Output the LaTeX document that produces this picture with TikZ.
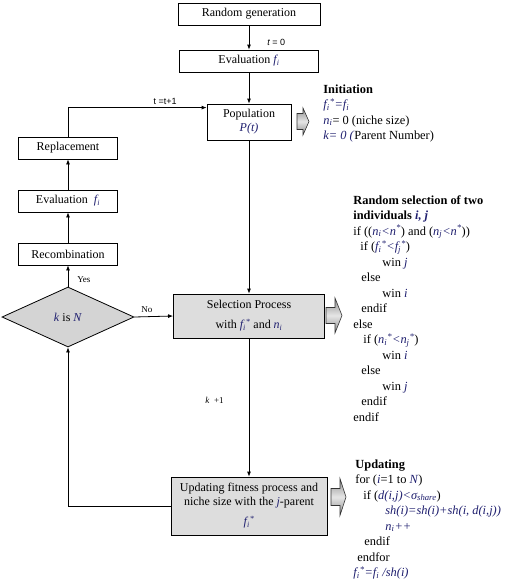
\documentclass[tikz,border=0pt]{standalone}
\usepackage{fontspec}
\setmainfont{Liberation Serif}
\setsansfont{Liberation Sans}
\usetikzlibrary{shapes.geometric,arrows.meta}
\definecolor{varc}{RGB}{30,30,110}
\definecolor{boxgray}{RGB}{221,221,221}
\definecolor{diagray}{RGB}{212,212,212}
\newcommand\vr[1]{\textcolor{varc}{\textit{#1}}}
\newcommand\subsup[2]{\textsubscript{#1}\textsuperscript{#2}}
% fat arrow: x0, xbody-end, xtip, ycenter, half body, half head
\newcommand\fatarr[6]{\path[fatstyle] (#1,{#4-#5}) -- (#2,{#4-#5}) -- (#2,{#4-#6}) -- (#3,#4) -- (#2,{#4+#6}) -- (#2,{#4+#5}) -- (#1,{#4+#5}) -- cycle;}
\begin{document}
\begin{tikzpicture}[x=1pt,y=-1pt,
  >={Latex[length=5pt,width=4pt]},
  line width=0.8pt,
  boxw/.style={draw, fill=white, minimum height=22pt, inner sep=1pt, font=\fontsize{12}{14}\selectfont, align=center},
  boxg/.style={draw, fill=boxgray, inner sep=1pt, font=\fontsize{12}{14}\selectfont, align=center},
  lab/.style={inner sep=1pt, font=\fontsize{9}{10}\selectfont},
  code/.style={anchor=north west, align=left, inner sep=0pt, font=\fontsize{12.4}{15.5}\selectfont},
  fatstyle/.style={draw=gray!40!black, line width=0.6pt, top color=gray!90, bottom color=gray!90, middle color=gray!20},
]
\useasboundingbox (0,0) rectangle (511,581);

% main column
\node[boxw, minimum width=142pt] (rg) at (249,14) {Random generation};
\node[boxw, minimum width=139pt] (ev) at (249,61) {Evaluation \vr{f\textsubscript{i}}};
\node[boxw, minimum width=84pt, minimum height=36pt] (pop) at (249,122) {Population\\\vr{P(t)}};
\node[boxg, minimum width=151pt, minimum height=44pt] (sel) at (249,316) {Selection Process\\[6pt]with \vr{f\subsup{i}{*}} and \vr{n\textsubscript{i}}};
\node[boxg, minimum width=156pt, minimum height=58pt] (upd) at (249,506) {Updating fitness process and\\niche size with the \vr{j}-parent\\[6pt]\vr{f\subsup{i}{*}}};

% left column
\node[boxw, minimum width=99pt] (rep) at (68,148) {Replacement};
\node[boxw, minimum width=99pt] (ev2) at (68,201) {Evaluation~~\vr{f\textsubscript{i}}};
\node[boxw, minimum width=99pt] (rec) at (68,254) {Recombination};
\node[diamond, draw, fill=diagray, aspect=2.2, minimum width=132pt, minimum height=60pt, inner sep=0pt, font=\fontsize{12}{14}\selectfont] (dia) at (68,317) {\vr{k} is \vr{N}};

% connectors
\draw[->] (rg) -- (ev) node[lab, pos=0.7, anchor=west, xshift=17pt] {\sffamily\itshape t\upshape{} = 0};
\draw[->] (ev) -- (pop);
\draw[->] (rep.north) |- ([yshift=-4pt]pop.north west) node[lab, pos=0.85, above=2pt] {\sffamily t =t+1};
\draw[->] (pop) -- (sel);
\draw[->] (dia.east) -- (sel.west) node[lab, pos=0.32, above=3pt] {No};
\draw[->] (dia.north) -- (rec.south) node[lab, pos=0.32, anchor=west, xshift=8pt] {Yes};
\draw[->] (rec) -- (ev2);
\draw[->] (ev2) -- (rep);
\draw[->] (sel) -- (upd) node[lab, pos=0.45, anchor=east, xshift=-24pt] {\textit{k}~~+1};
\draw[->] (upd.west) -| (dia.south);

% fat arrows
\fatarr{297}{303}{309}{121.5}{8}{13.5}
\fatarr{326}{335}{342}{315.5}{8}{17.5}
\fatarr{331}{340}{346}{497}{8.5}{18.5}

% text blocks
\node[code] (init) at (323,84) {\textbf{Initiation}\\
\vr{f\subsup{i}{*}=f\textsubscript{i}}\\
\vr{n\textsubscript{i}}= 0 (niche size)\\
\vr{k= 0 (}Parent Number)};

\node[code] (selcode) at (353,195) {\textbf{Random selection of two}\\
\textbf{individuals \textcolor{varc}{\textit{i, j}}}\\
if ((\vr{n\textsubscript{i}<n\textsuperscript{*}}) and (\vr{n\textsubscript{j}<n\textsuperscript{*}}))\\
\hspace*{7pt}if (\vr{f\subsup{i}{*}<f\subsup{j}{*}})\\
\hspace*{29pt}win \vr{j}\\
\hspace*{8pt}else\\
\hspace*{29pt}win \vr{i}\\
\hspace*{8pt}endif\\
else\\
\hspace*{10pt}if (\vr{n\subsup{i}{*}<n\subsup{j}{*}})\\
\hspace*{29pt}win \vr{i}\\
\hspace*{8pt}else\\
\hspace*{29pt}win \vr{j}\\
\hspace*{8pt}endif\\
endif};

\node[code] (updcode) at (353,459) {\hspace*{2pt}\textbf{Updating}\\
\hspace*{2pt}for (\vr{i}=1 to \vr{N})\\
\hspace*{10pt}if (\vr{d(i,j)<σ\textsubscript{share}})\\
\hspace*{32pt}\vr{sh(i)=sh(i)+sh(i, d(i,j))}\\
\hspace*{32pt}\vr{n\textsubscript{i}++}\\
\hspace*{11pt}endif\\
\hspace*{4pt}endfor\\
\vr{f\subsup{i}{*}=f\textsubscript{i} /sh(i)}};
\end{tikzpicture}
\end{document}
